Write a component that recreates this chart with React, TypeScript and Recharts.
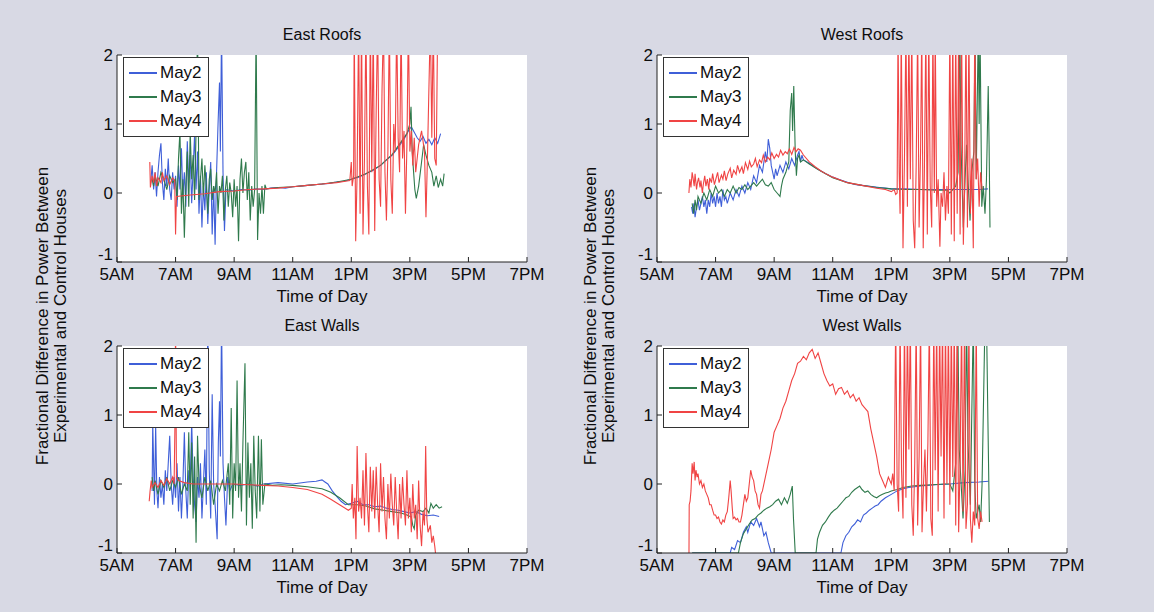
import React from "react";
import { LineChart, Line, XAxis, YAxis, CartesianGrid, Legend } from "recharts";

// hours of day (decimal) -> fractional difference
const X_TICKS = [5, 7, 9, 11, 13, 15, 17, 19];
const Y_TICKS = [-1, 0, 1, 2];
const DAYS = ["May2", "May3", "May4"];
const COLORS = ["#3f5fd8", "#2f7a4c", "#f04444"];

const eastRoofsMay2 = [
  [6.15, 0.15], [6.2, 0.4], [6.25, 0.05], [6.3, 0.3], [6.35, -0.05], [6.4, 0.3], [6.45, 0.55], [6.5, 0.72],
  [6.55, 0.15], [6.6, -0.1], [6.65, 0.35], [6.7, 0.1], [6.75, 0.5], [6.8, 0.05], [6.85, -0.1], [6.9, 0.3],
  [6.95, 0.05], [7.0, 0.25], [7.05, -0.2], [7.1, 0.4], [7.15, 0.05], [7.2, 0.65], [7.25, -0.05], [7.3, 0.3],
  [7.35, -0.2], [7.4, 0.75], [7.45, 0.15], [7.5, 0.55], [7.55, -0.15], [7.6, 0.35], [7.65, 0.85], [7.7, 0.05],
  [7.75, 0.6], [7.8, -0.3], [7.85, 0.25], [7.9, -0.5], [7.95, 0.1], [8.0, -0.25], [8.05, 0.3], [8.1, -0.45],
  [8.15, 0.05], [8.2, 0.45], [8.25, -0.6], [8.3, 0.1], [8.35, -0.75], [8.4, 0.3], [8.45, 1.0], [8.5, 1.6],
  [8.53, 0.6], [8.57, 2.4], [8.62, 0.3], [8.67, -0.55], [8.72, 0.05], [9.0, 0.03], [9.25, 0.05], [9.5, 0.04],
  [9.75, 0.06], [10.0, 0.05], [10.25, 0.07], [10.5, 0.08], [10.75, 0.07], [11.0, 0.09], [11.25, 0.1],
  [11.5, 0.11], [11.75, 0.12], [12.0, 0.13], [12.25, 0.14], [12.5, 0.16], [12.75, 0.17], [13.0, 0.2],
  [13.25, 0.23], [13.5, 0.28], [13.75, 0.33], [14.0, 0.4], [14.2, 0.48], [14.4, 0.55], [14.6, 0.66],
  [14.8, 0.78], [14.95, 0.9], [15.05, 0.96], [15.15, 0.88], [15.25, 0.8], [15.35, 0.75], [15.45, 0.82],
  [15.55, 0.72], [15.65, 0.78], [15.75, 0.7], [15.85, 0.8], [15.95, 0.72], [16.05, 0.86],
];
const eastRoofsMay3 = [
  [6.2, 0.2], [6.25, 0.1], [6.3, 0.25], [6.4, 0.1], [6.5, 0.3], [6.6, 0.2], [6.7, 0.05], [6.8, 0.25],
  [6.9, 0.15], [7.0, 0.2], [7.05, -0.1], [7.1, 0.5], [7.15, 0.9], [7.2, -0.3], [7.25, 0.2], [7.3, -0.65],
  [7.35, 0.1], [7.4, 0.6], [7.45, -0.2], [7.5, 0.9], [7.55, 0.2], [7.6, 0.55], [7.65, -0.1], [7.7, 0.9],
  [7.75, 2.4], [7.8, -0.1], [7.85, 0.2], [7.9, 0.5], [7.95, -0.05], [8.0, 0.4], [8.05, 0.1], [8.1, -0.3],
  [8.15, 0.2], [8.2, 0.35], [8.25, -0.1], [8.3, 0.1], [8.35, 0.0], [8.4, 0.3], [8.45, -0.3], [8.5, 0.1],
  [8.55, 0.0], [8.6, 0.25], [8.65, -0.4], [8.7, 0.05], [8.75, 0.25], [8.8, -0.2], [8.85, 0.15], [8.9, 0.0],
  [8.95, -0.35], [9.0, 0.2], [9.05, -0.2], [9.1, 0.1], [9.15, -0.7], [9.2, 0.2], [9.25, 0.5], [9.3, 0.0],
  [9.35, 0.3], [9.4, 0.45], [9.45, -0.1], [9.5, 0.3], [9.55, -0.4], [9.6, 0.1], [9.65, -0.2], [9.7, 0.05],
  [9.75, 2.4], [9.8, -0.68], [9.85, 0.0], [9.9, -0.3], [9.95, 0.1], [10.0, -0.3], [10.05, 0.12], [10.1, 0.06],
  [10.5, 0.08], [11.0, 0.09], [11.5, 0.11], [12.0, 0.13], [12.5, 0.16], [13.0, 0.2], [13.5, 0.28], [14.0, 0.4],
  [14.4, 0.56], [14.7, 0.74], [14.9, 0.86], [15.0, 1.0], [15.04, 1.25], [15.08, 0.6], [15.12, 0.35],
  [15.17, 0.05], [15.22, -0.08], [15.3, 0.1], [15.4, 0.45], [15.47, 0.7], [15.55, 0.55], [15.65, 0.4],
  [15.75, 0.3], [15.82, 0.1], [15.9, 0.25], [15.97, 0.08], [16.05, 0.2], [16.12, 0.1], [16.17, 0.28],
];
const eastRoofsMay4 = [
  [6.12, 0.45], [6.14, 0.08], [6.2, 0.25], [6.25, 0.15], [6.3, 0.3], [6.35, 0.1], [6.4, 0.22], [6.5, 0.15],
  [6.55, 0.3], [6.6, 0.18], [6.7, 0.25], [6.8, 0.12], [6.9, 0.22], [6.97, 0.18], [7.0, -0.6], [7.03, -0.05],
  [7.5, -0.03], [8.0, -0.01], [8.5, 0.02], [9.0, 0.03], [9.5, 0.05], [10.0, 0.06], [10.5, 0.07], [11.0, 0.09],
  [11.5, 0.11], [12.0, 0.13], [12.5, 0.15], [12.8, 0.17], [12.95, 0.18], [13.0, 0.45], [13.03, 0.1],
  [13.08, 0.25], [13.1, 2.5], [13.15, -0.7], [13.2, 0.3], [13.25, 2.5], [13.3, -0.3], [13.35, 2.5],
  [13.4, -0.6], [13.45, 0.5], [13.5, 2.5], [13.55, 0.1], [13.6, -0.6], [13.65, 2.5], [13.7, 0.3],
  [13.75, 2.5], [13.8, -0.55], [13.85, 1.2], [13.9, 2.5], [13.95, 0.2], [14.0, -0.2], [14.05, 1.5],
  [14.1, 2.5], [14.15, 0.3], [14.2, -0.4], [14.25, 0.6], [14.3, 2.5], [14.35, 0.2], [14.4, -0.3],
  [14.45, 1.0], [14.5, 0.6], [14.55, 2.5], [14.6, 0.8], [14.65, 0.3], [14.7, 2.5], [14.75, 0.5],
  [14.8, 0.9], [14.85, -0.3], [14.9, 0.7], [14.95, 2.5], [15.0, 0.6], [15.05, 0.9], [15.1, 0.4],
  [15.15, 0.8], [15.2, 0.3], [15.3, 0.7], [15.4, 0.9], [15.5, 0.6], [15.55, -0.35], [15.6, 0.5],
  [15.7, 2.5], [15.75, 0.8], [15.8, 2.5], [15.85, 0.5], [15.9, 0.4], [15.95, 2.5],
];

const westRoofsMay2 = [
  [6.18, -0.2], [6.22, -0.3], [6.26, -0.15], [6.3, -0.35], [6.35, -0.2], [6.4, -0.1], [6.45, -0.25],
  [6.5, -0.15], [6.55, -0.05], [6.6, -0.2], [6.65, -0.1], [6.7, -0.3], [6.75, -0.1], [6.8, -0.2], [6.85, 0.0],
  [6.9, -0.15], [6.95, -0.05], [7.0, -0.2], [7.05, 0.0], [7.1, -0.15], [7.15, -0.05], [7.2, -0.2],
  [7.25, 0.05], [7.3, -0.1], [7.35, -0.05], [7.4, -0.15], [7.5, 0.0], [7.6, -0.1], [7.7, 0.05], [7.8, -0.05],
  [7.9, 0.1], [8.0, 0.0], [8.1, 0.15], [8.2, 0.05], [8.3, 0.25], [8.4, 0.15], [8.5, 0.4], [8.6, 0.3],
  [8.7, 0.6], [8.75, 0.45], [8.8, 0.78], [8.85, 0.65], [8.9, 0.4], [9.0, 0.2], [9.05, 0.35], [9.1, 0.25],
  [9.2, 0.4], [9.3, 0.3], [9.4, 0.45], [9.5, 0.35], [9.6, 0.5], [9.7, 0.4], [9.8, 0.55], [9.85, 0.6],
  [9.9, 0.45], [9.95, 0.55], [10.0, 0.48], [10.2, 0.43], [10.4, 0.37], [10.6, 0.32], [10.8, 0.27],
  [11.0, 0.23], [11.2, 0.2], [11.4, 0.17], [11.6, 0.14], [11.8, 0.12], [12.0, 0.11], [12.2, 0.1],
  [12.4, 0.09], [12.6, 0.08], [12.8, 0.07], [13.0, 0.06], [13.5, 0.06], [14.0, 0.05], [14.5, 0.05],
  [15.0, 0.05], [15.5, 0.05], [16.0, 0.05], [16.3, 0.06],
];
const westRoofsMay3 = [
  [6.2, -0.15], [6.25, -0.3], [6.3, -0.1], [6.35, -0.25], [6.4, -0.05], [6.5, -0.15], [6.6, 0.0],
  [6.7, -0.1], [6.8, 0.05], [6.9, -0.05], [7.0, 0.1], [7.1, 0.0], [7.2, 0.05], [7.3, -0.05], [7.4, 0.05],
  [7.5, 0.0], [7.6, 0.1], [7.7, 0.0], [7.8, 0.08], [7.9, 0.05], [8.0, 0.12], [8.1, 0.05], [8.2, 0.1],
  [8.3, 0.15], [8.4, 0.1], [8.5, 0.15], [8.6, 0.2], [8.7, 0.12], [8.8, 0.1], [8.9, 0.15], [9.0, 0.05],
  [9.1, 0.0], [9.2, -0.05], [9.25, 0.1], [9.3, 0.2], [9.4, 0.3], [9.5, 0.45], [9.55, 1.2], [9.6, 1.45],
  [9.63, 0.9], [9.67, 1.55], [9.72, 0.6], [9.76, 0.25], [9.8, 0.5], [9.85, 0.55], [9.9, 0.45], [10.0, 0.48],
  [10.2, 0.42], [10.5, 0.34], [11.0, 0.22], [11.5, 0.15], [12.0, 0.11], [12.5, 0.08], [13.0, 0.06],
  [13.5, 0.05], [14.0, 0.05], [14.5, 0.04], [14.9, 0.04], [15.0, 0.0], [15.1, 0.05], [15.2, 0.1],
  [15.28, 0.3], [15.34, 2.4], [15.38, 0.7], [15.46, -0.5], [15.52, 0.2], [15.57, 0.7], [15.63, 0.1],
  [15.69, -0.4], [15.75, 0.3], [15.82, 0.6], [15.86, 2.4], [15.9, 0.2], [15.97, 2.4], [16.0, 1.0],
  [16.03, 2.4], [16.09, -0.2], [16.14, 0.1], [16.2, -0.3], [16.25, 0.2], [16.31, 1.55], [16.34, 0.7],
  [16.37, -0.5],
];
const westRoofsMay4 = [
  [6.09, 0.0], [6.12, 0.2], [6.16, 0.08], [6.2, 0.3], [6.23, 0.22], [6.27, 0.1], [6.3, 0.28], [6.35, 0.05],
  [6.38, 0.15], [6.42, 0.22], [6.47, 0.08], [6.5, 0.18], [6.55, 0.0], [6.58, 0.12], [6.63, 0.25],
  [6.67, 0.1], [6.72, 0.2], [6.77, 0.05], [6.8, 0.22], [6.86, 0.15], [6.9, 0.28], [6.96, 0.12],
  [7.02, 0.22], [7.07, 0.3], [7.12, 0.15], [7.2, 0.26], [7.25, 0.2], [7.3, 0.32], [7.36, 0.18],
  [7.42, 0.28], [7.5, 0.36], [7.55, 0.22], [7.62, 0.33], [7.7, 0.27], [7.75, 0.4], [7.82, 0.3],
  [7.9, 0.38], [7.95, 0.28], [8.02, 0.44], [8.1, 0.34], [8.16, 0.46], [8.22, 0.38], [8.3, 0.42],
  [8.36, 0.5], [8.42, 0.38], [8.5, 0.48], [8.57, 0.44], [8.63, 0.55], [8.7, 0.45], [8.78, 0.52],
  [8.85, 0.48], [8.92, 0.58], [9.0, 0.5], [9.08, 0.56], [9.15, 0.52], [9.22, 0.62], [9.3, 0.55],
  [9.38, 0.6], [9.45, 0.57], [9.52, 0.64], [9.6, 0.56], [9.68, 0.66], [9.75, 0.6], [9.82, 0.64],
  [9.9, 0.62], [10.0, 0.55], [10.2, 0.45], [10.4, 0.38], [10.6, 0.32], [10.8, 0.27], [11.0, 0.23],
  [11.5, 0.15], [12.0, 0.11], [12.5, 0.07], [12.8, 0.05], [13.0, 0.02], [13.1, 0.05], [13.15, -0.02],
  [13.2, 0.0], [13.23, 2.4], [13.27, 0.3], [13.3, -0.3], [13.34, 2.4], [13.4, -0.8], [13.45, 0.5],
  [13.5, 2.4], [13.55, -0.2], [13.6, 2.4], [13.65, 0.2], [13.7, 2.4], [13.75, -0.4], [13.8, -0.8],
  [13.85, 0.4], [13.9, 2.4], [13.95, -0.5], [14.0, 0.6], [14.04, 2.4], [14.09, -0.8], [14.13, 0.3],
  [14.18, 2.4], [14.23, -0.6], [14.28, 2.4], [14.33, 0.1], [14.38, -0.5], [14.42, 2.4], [14.47, 0.0],
  [14.5, 2.4], [14.55, -0.2], [14.6, 0.2], [14.66, -0.78], [14.7, 0.0], [14.75, -0.2], [14.8, 0.3],
  [14.85, -0.4], [14.9, 0.1], [14.95, -0.3], [15.0, 2.4], [15.05, -0.6], [15.1, 2.4], [15.15, -0.7],
  [15.2, 2.4], [15.25, -0.3], [15.3, 2.4], [15.35, -0.6], [15.4, 2.4], [15.46, -0.75], [15.5, 0.0],
  [15.55, 2.4], [15.6, -0.5], [15.65, 2.4], [15.7, -0.3], [15.75, 0.5], [15.8, -0.8], [15.85, 2.4],
  [15.9, 0.2], [15.95, 0.5], [16.0, -0.2], [16.05, 0.3], [16.1, 0.05],
];

const eastWallsMay2 = [
  [6.2, -0.1], [6.22, 0.9], [6.25, 0.3], [6.28, -0.3], [6.32, 0.85], [6.36, -0.1], [6.4, -0.35], [6.45, 0.1],
  [6.5, -0.2], [6.55, 0.0], [6.6, -0.3], [6.65, 0.2], [6.7, -0.1], [6.75, 0.3], [6.8, 0.7], [6.85, 0.0],
  [6.9, -0.3], [6.95, 0.1], [7.0, -0.2], [7.05, 0.3], [7.1, -0.4], [7.15, 0.1], [7.2, -0.5], [7.25, 0.0],
  [7.3, 0.75], [7.35, -0.1], [7.4, -0.5], [7.45, 0.2], [7.5, 0.0], [7.55, 0.9], [7.6, 0.1], [7.65, -0.3],
  [7.7, -0.55], [7.75, 0.1], [7.8, -0.2], [7.85, 0.3], [7.9, -0.5], [7.95, 0.0], [8.0, 0.5], [8.05, -0.3],
  [8.1, 2.4], [8.15, 0.2], [8.2, -0.5], [8.25, 1.3], [8.3, 0.0], [8.35, -0.3], [8.42, -0.8], [8.46, 0.6],
  [8.5, 1.2], [8.53, 0.4], [8.57, 2.4], [8.62, 0.3], [8.67, -0.2], [8.72, -0.6], [8.78, 0.1], [8.85, -0.1],
  [8.95, 0.0], [9.2, -0.02], [9.5, 0.0], [9.8, -0.03], [10.0, 0.0], [10.5, 0.02], [11.0, 0.0], [11.5, 0.03],
  [11.8, 0.04], [12.0, 0.06], [12.1, 0.03], [12.2, 0.0], [12.35, -0.1], [12.5, -0.18], [12.65, -0.25],
  [12.8, -0.3], [13.0, -0.28], [13.2, -0.25], [13.4, -0.3], [13.6, -0.3], [13.8, -0.33], [14.0, -0.32],
  [14.2, -0.35], [14.4, -0.37], [14.6, -0.38], [14.8, -0.4], [15.0, -0.42], [15.2, -0.4], [15.4, -0.44],
  [15.6, -0.46], [15.8, -0.45], [16.0, -0.47],
];
const eastWallsMay3 = [
  [6.2, 0.1], [6.25, -0.1], [6.3, 0.05], [6.4, -0.15], [6.5, 0.05], [6.6, -0.05], [6.7, 0.1], [6.8, -0.1],
  [6.9, 0.05], [7.0, -0.05], [7.1, 0.1], [7.2, -0.15], [7.3, 0.0], [7.4, -0.1], [7.45, 0.75], [7.5, -0.3],
  [7.55, 0.6], [7.6, -0.5], [7.65, 0.4], [7.7, -0.85], [7.75, 0.7], [7.8, 0.0], [7.9, -0.2], [8.0, 0.1],
  [8.1, -0.1], [8.2, 0.05], [8.3, -0.3], [8.4, 0.0], [8.5, -0.1], [8.6, 0.05], [8.7, -0.1], [8.8, 0.3],
  [8.85, -0.3], [8.9, 1.1], [8.95, -0.5], [9.0, 0.3], [9.05, -0.1], [9.1, 1.5], [9.15, -0.2], [9.2, 0.3],
  [9.25, -0.4], [9.3, 0.6], [9.37, 1.75], [9.42, -0.6], [9.47, 0.6], [9.52, -0.2], [9.57, 0.3],
  [9.62, -0.65], [9.67, 0.7], [9.72, -0.1], [9.77, -0.5], [9.83, 0.7], [9.88, -0.4], [9.93, 0.65],
  [9.98, -0.3], [10.05, 0.0], [10.3, -0.02], [10.6, -0.01], [11.0, -0.02], [11.5, -0.04], [12.0, -0.07],
  [12.3, -0.12], [12.6, -0.2], [12.9, -0.3], [13.2, -0.3], [13.5, -0.32], [13.8, -0.36], [14.1, -0.38],
  [14.4, -0.4], [14.7, -0.42], [14.9, -0.45], [15.05, -0.48], [15.1, -0.6], [15.15, -0.65], [15.2, -0.45],
  [15.3, -0.38], [15.45, -0.4], [15.55, -0.35], [15.65, -0.42], [15.72, -0.28], [15.8, -0.35],
  [15.9, -0.3], [16.0, -0.35], [16.1, -0.33],
];
const eastWallsMay4 = [
  [6.1, -0.25], [6.13, -0.1], [6.17, 0.05], [6.2, -0.05], [6.3, 0.02], [6.4, -0.05], [6.5, 0.05],
  [6.6, -0.02], [6.7, 0.08], [6.8, 0.0], [6.9, 0.1], [6.95, 0.0], [6.98, 0.9], [7.0, 2.4], [7.03, 0.1],
  [7.1, 0.05], [7.3, 0.02], [7.6, 0.0], [8.0, 0.0], [8.5, 0.0], [9.0, 0.0], [9.5, -0.01], [10.0, -0.02],
  [10.5, -0.03], [11.0, -0.05], [11.5, -0.08], [12.0, -0.15], [12.3, -0.22], [12.6, -0.3], [12.9, -0.38],
  [13.0, -0.35], [13.03, 0.0], [13.07, -0.5], [13.12, -0.2], [13.16, -0.8], [13.2, 0.55], [13.25, -0.4],
  [13.3, -0.2], [13.35, -0.5], [13.4, 0.2], [13.45, -0.6], [13.5, 0.45], [13.55, -0.3], [13.6, -0.7],
  [13.65, 0.25], [13.7, -0.4], [13.75, 0.2], [13.8, -0.5], [13.85, 0.25], [13.9, -0.3], [13.95, -0.7],
  [14.0, 0.3], [14.05, -0.4], [14.1, 0.1], [14.15, -0.5], [14.2, -0.8], [14.25, 0.0], [14.3, -0.5],
  [14.35, 0.15], [14.4, -0.3], [14.45, -0.6], [14.5, 0.1], [14.55, -0.4], [14.6, -0.8], [14.65, 0.0],
  [14.7, -0.5], [14.75, 0.1], [14.8, -0.3], [14.85, -0.6], [14.9, 0.2], [14.95, -0.5], [15.0, -0.2],
  [15.05, -0.7], [15.1, 0.0], [15.15, -0.5], [15.2, -0.3], [15.25, -0.8], [15.3, 0.05], [15.35, -0.6],
  [15.4, -0.9], [15.45, -0.4], [15.5, -0.6], [15.54, 0.55], [15.58, -0.5], [15.62, -0.7], [15.7, -0.6],
  [15.75, -0.85], [15.8, -0.75], [15.85, -0.9], [15.9, -1.1],
];

const westWallsMay2 = [
  [6.2, -1], [7.5, -1], [7.55, -0.92], [7.65, -0.95], [7.75, -0.82], [7.85, -0.85], [7.95, -0.7],
  [8.05, -0.62], [8.1, -0.7], [8.2, -0.55], [8.3, -0.6], [8.4, -0.5], [8.5, -0.62], [8.55, -0.55],
  [8.65, -0.75], [8.72, -0.7], [8.8, -0.85], [8.9, -1], [11.28, -1], [11.35, -0.85], [11.45, -0.75],
  [11.55, -0.7], [11.65, -0.62], [11.75, -0.58], [11.85, -0.52], [11.95, -0.55], [12.05, -0.45],
  [12.15, -0.42], [12.25, -0.38], [12.35, -0.35], [12.45, -0.32], [12.55, -0.3], [12.65, -0.25],
  [12.8, -0.2], [13.0, -0.15], [13.2, -0.1], [13.4, -0.07], [13.6, -0.05], [13.8, -0.04], [14.0, -0.03],
  [14.5, -0.01], [15.0, 0.0], [15.5, 0.02], [16.0, 0.03], [16.32, 0.04],
];
const westWallsMay3 = [
  [6.2, -1], [7.78, -1], [7.85, -0.85], [7.95, -0.72], [8.05, -0.65], [8.15, -0.58], [8.25, -0.52],
  [8.35, -0.5], [8.45, -0.45], [8.55, -0.42], [8.65, -0.38], [8.75, -0.35], [8.85, -0.33], [8.95, -0.3],
  [9.05, -0.25], [9.15, -0.22], [9.25, -0.3], [9.35, -0.2], [9.45, -0.28], [9.55, -0.15], [9.62, -0.03],
  [9.66, -0.5], [9.72, -1], [10.43, -1], [10.48, -0.8], [10.55, -0.7], [10.65, -0.6], [10.75, -0.55],
  [10.85, -0.48], [10.95, -0.42], [11.05, -0.38], [11.15, -0.35], [11.25, -0.3], [11.35, -0.25],
  [11.45, -0.2], [11.55, -0.18], [11.65, -0.12], [11.75, -0.08], [11.85, -0.05], [11.92, -0.03],
  [12.0, -0.08], [12.1, -0.12], [12.2, -0.1], [12.3, -0.15], [12.4, -0.18], [12.5, -0.2], [12.6, -0.17],
  [12.7, -0.15], [12.8, -0.13], [12.9, -0.12], [13.0, -0.1], [13.2, -0.08], [13.4, -0.05], [13.7, -0.03],
  [14.0, -0.02], [14.4, -0.01], [14.8, 0.0], [15.0, 0.0], [15.1, -0.1], [15.2, 0.3], [15.27, 2.4],
  [15.32, 0.5], [15.45, -0.5], [15.52, 0.2], [15.57, 2.4], [15.62, 0.6], [15.7, -0.3], [15.8, 2.4],
  [15.85, 0.0], [15.9, -0.5], [16.0, -0.3], [16.05, -0.55], [16.1, 0.0], [16.2, 2.4], [16.25, 2.4],
  [16.3, 0.9], [16.35, -0.55],
];
const westWallsMay4 = [
  [6.09, -1.2], [6.1, -0.3], [6.13, -0.25], [6.16, -0.1], [6.2, 0.3], [6.23, 0.15], [6.27, 0.32],
  [6.3, 0.05], [6.33, 0.2], [6.37, 0.1], [6.4, 0.15], [6.45, 0.0], [6.5, 0.05], [6.55, -0.05], [6.6, 0.0],
  [6.65, -0.1], [6.7, -0.15], [6.75, -0.2], [6.8, -0.3], [6.85, -0.3], [6.9, -0.38], [6.95, -0.45],
  [7.0, -0.45], [7.05, -0.5], [7.1, -0.48], [7.15, -0.55], [7.2, -0.58], [7.25, -0.52], [7.3, -0.55],
  [7.35, -0.45], [7.4, -0.4], [7.45, -0.2], [7.5, 0.05], [7.53, -0.1], [7.57, -0.35], [7.6, -0.5],
  [7.65, -0.48], [7.7, -0.52], [7.75, -0.5], [7.8, -0.55], [7.85, -0.55], [7.9, -0.45], [7.95, -0.3],
  [8.0, -0.15], [8.05, -0.25], [8.1, -0.2], [8.15, 0.0], [8.2, 0.2], [8.25, 0.1], [8.3, 0.05], [8.35, -0.1],
  [8.4, -0.15], [8.45, -0.3], [8.5, -0.35], [8.55, -0.15], [8.6, -0.1], [8.7, 0.1], [8.8, 0.3], [8.9, 0.5],
  [9.0, 0.75], [9.1, 0.85], [9.2, 0.95], [9.3, 1.1], [9.4, 1.2], [9.5, 1.35], [9.6, 1.5], [9.7, 1.6],
  [9.8, 1.75], [9.9, 1.78], [10.0, 1.85], [10.1, 1.8], [10.2, 1.9], [10.3, 1.95], [10.4, 1.82], [10.5, 1.9],
  [10.6, 1.75], [10.7, 1.6], [10.8, 1.5], [10.9, 1.42], [11.0, 1.45], [11.1, 1.3], [11.2, 1.38], [11.3, 1.4],
  [11.4, 1.3], [11.5, 1.35], [11.6, 1.25], [11.7, 1.3], [11.8, 1.2], [11.9, 1.25], [12.0, 1.15],
  [12.1, 1.1], [12.2, 1.05], [12.3, 0.8], [12.4, 0.6], [12.5, 0.4], [12.6, 0.15], [12.7, 0.05],
  [12.8, -0.05], [12.9, 0.1], [13.0, 0.0], [13.05, 0.15], [13.1, -0.1], [13.15, 2.4], [13.2, 0.0],
  [13.25, -0.4], [13.3, 2.4], [13.35, 0.2], [13.4, -0.5], [13.45, 2.4], [13.5, -0.2], [13.55, 2.4],
  [13.6, 0.5], [13.65, 2.4], [13.7, -0.3], [13.75, -0.75], [13.8, 0.3], [13.85, 2.4], [13.9, -0.6],
  [13.95, 0.4], [14.0, 2.4], [14.05, -0.7], [14.1, 0.0], [14.15, 0.5], [14.2, -0.4], [14.25, 0.6],
  [14.3, 2.4], [14.35, -0.5], [14.4, -0.75], [14.45, 2.4], [14.5, 0.2], [14.55, 2.4], [14.6, -0.4],
  [14.65, 2.4], [14.7, 0.4], [14.75, 2.4], [14.8, -0.5], [14.85, 2.4], [14.9, 0.0], [14.95, 2.4],
  [15.0, -0.3], [15.05, 2.4], [15.1, 0.1], [15.15, 2.4], [15.2, -0.6], [15.25, 2.4], [15.3, -0.7],
  [15.35, 0.3], [15.4, 2.4], [15.45, -0.4], [15.5, 2.4], [15.55, -0.65], [15.6, -0.3], [15.65, 2.4],
  [15.7, -0.5], [15.75, -0.85], [15.8, -0.4], [15.85, -0.6], [15.9, 2.4], [15.95, -0.5], [16.0, -0.65],
  [16.05, -0.4], [16.1, -0.55],
];

const FONT = '"Liberation Sans", Arial, Helvetica, sans-serif';
const INK = "#0d0d0d";

const hourLabel = (h: number) =>
  h < 12 ? `${h}AM` : h === 12 ? "12PM" : `${h - 12}PM`;

const toRows = (pts: number[][]) => pts.map(([t, v]) => ({ t, v }));

type PanelProps = {
  title: string;
  plotLeft: number;
  plotTop: number;
  lines: number[][][];
};

const PLOT_W = 410;
const PLOT_H = 207;
const AXIS_W = 30;
const AXIS_H = 45;
const M_TOP = 10;
const M_RIGHT = 20;

// y tick text; the bottom "-1" is lifted a bit so it clears the "5AM" label
function YTick({ x, y, payload }: any) {
  const lift = payload.value === -1 ? -8 : 0;
  return (
    <text
      x={x}
      y={y + lift}
      textAnchor="end"
      dominantBaseline="central"
      fill={INK}
      fontSize={17}
      fontFamily={FONT}
    >
      {payload.value}
    </text>
  );
}

function LegendBox() {
  return (
    <div
      style={{
        background: "#fff",
        border: "1px solid #333",
        padding: "3px 6px 3px 5px",
        fontFamily: FONT,
        fontSize: 17,
        color: INK,
        display: "inline-block",
      }}
    >
      {DAYS.map((d, i) => (
        <div key={d} style={{ display: "flex", alignItems: "center", height: 24 }}>
          <span style={{ width: 28, height: 1.2, background: COLORS[i], marginRight: 3 }} />
          <span>{d}</span>
        </div>
      ))}
    </div>
  );
}

function Panel({ title, plotLeft, plotTop, lines }: PanelProps) {
  return (
    <>
      <div
        style={{
          position: "absolute",
          left: plotLeft + PLOT_W / 2,
          top: plotTop - 28,
          transform: "translateX(-50%)",
          fontSize: 16,
          lineHeight: "16px",
          whiteSpace: "nowrap",
          color: INK,
        }}
      >
        {title}
      </div>
      <div style={{ position: "absolute", left: plotLeft - AXIS_W, top: plotTop - M_TOP }}>
        <LineChart
          width={AXIS_W + PLOT_W + M_RIGHT}
          height={M_TOP + PLOT_H + AXIS_H}
          margin={{ top: M_TOP, right: M_RIGHT, bottom: 0, left: 0 }}
        >
          <CartesianGrid horizontal={false} vertical={false} fill="#ffffff" fillOpacity={1} />
          <XAxis
            dataKey="t"
            type="number"
            domain={[5, 19]}
            ticks={X_TICKS}
            interval={0}
            allowDataOverflow
            tickFormatter={hourLabel}
            height={AXIS_H}
            tickSize={-5}
            tickMargin={11}
            stroke="#222"
            tick={{ fill: INK, fontSize: 17, fontFamily: FONT }}
            label={{ value: "Time of Day", position: "insideBottom", offset: 5, fill: INK, fontSize: 17, fontFamily: FONT }}
          />
          <XAxis
            xAxisId="top"
            orientation="top"
            type="number"
            domain={[5, 19]}
            ticks={X_TICKS}
            interval={0}
            height={0}
            tickSize={-5}
            tickFormatter={() => ""}
            stroke="#222"
          />
          <YAxis
            type="number"
            domain={[-1, 2]}
            ticks={Y_TICKS}
            interval={0}
            allowDataOverflow
            width={AXIS_W}
            tickSize={-5}
            tickMargin={9}
            stroke="#222"
            tick={<YTick />}
          />
          <YAxis
            yAxisId="right"
            orientation="right"
            type="number"
            domain={[-1, 2]}
            ticks={Y_TICKS}
            interval={0}
            width={0}
            tickSize={-5}
            tickFormatter={() => ""}
            stroke="#222"
          />
          <Legend
            layout="vertical"
            align="center"
            verticalAlign="middle"
            wrapperStyle={{ left: AXIS_W + 6, top: M_TOP + 2, width: "auto" }}
            content={() => <LegendBox />}
          />
          {lines.map((pts, i) => (
            <Line
              key={DAYS[i]}
              name={DAYS[i]}
              data={toRows(pts)}
              dataKey="v"
              type="linear"
              stroke={COLORS[i]}
              strokeWidth={1.1}
              dot={false}
              activeDot={false}
              isAnimationActive={false}
            />
          ))}
        </LineChart>
      </div>
    </>
  );
}

function YLabel({ cx }: { cx: number }) {
  return (
    <div
      style={{
        position: "absolute",
        left: cx,
        top: 316,
        transform: "translate(-50%, -50%) rotate(-90deg)",
        fontSize: 17,
        lineHeight: "18px",
        textAlign: "center",
        whiteSpace: "nowrap",
        color: INK,
      }}
    >
      Fractional Difference in Power Between
      <br />
      Experimental and Control Houses
    </div>
  );
}

export default function App() {
  return (
    <div
      style={{
        position: "absolute",
        left: 0,
        top: 0,
        width: 1154,
        height: 612,
        background: "#d8d9e4",
        fontFamily: FONT,
        overflow: "hidden",
      }}
    >
      <YLabel cx={52} />
      <YLabel cx={600} />
      <Panel title="East Roofs" plotLeft={117} plotTop={55} lines={[eastRoofsMay2, eastRoofsMay3, eastRoofsMay4]} />
      <Panel title="West Roofs" plotLeft={657} plotTop={55} lines={[westRoofsMay2, westRoofsMay3, westRoofsMay4]} />
      <Panel title="East Walls" plotLeft={117} plotTop={346} lines={[eastWallsMay2, eastWallsMay3, eastWallsMay4]} />
      <Panel title="West Walls" plotLeft={657} plotTop={346} lines={[westWallsMay2, westWallsMay3, westWallsMay4]} />
    </div>
  );
}
